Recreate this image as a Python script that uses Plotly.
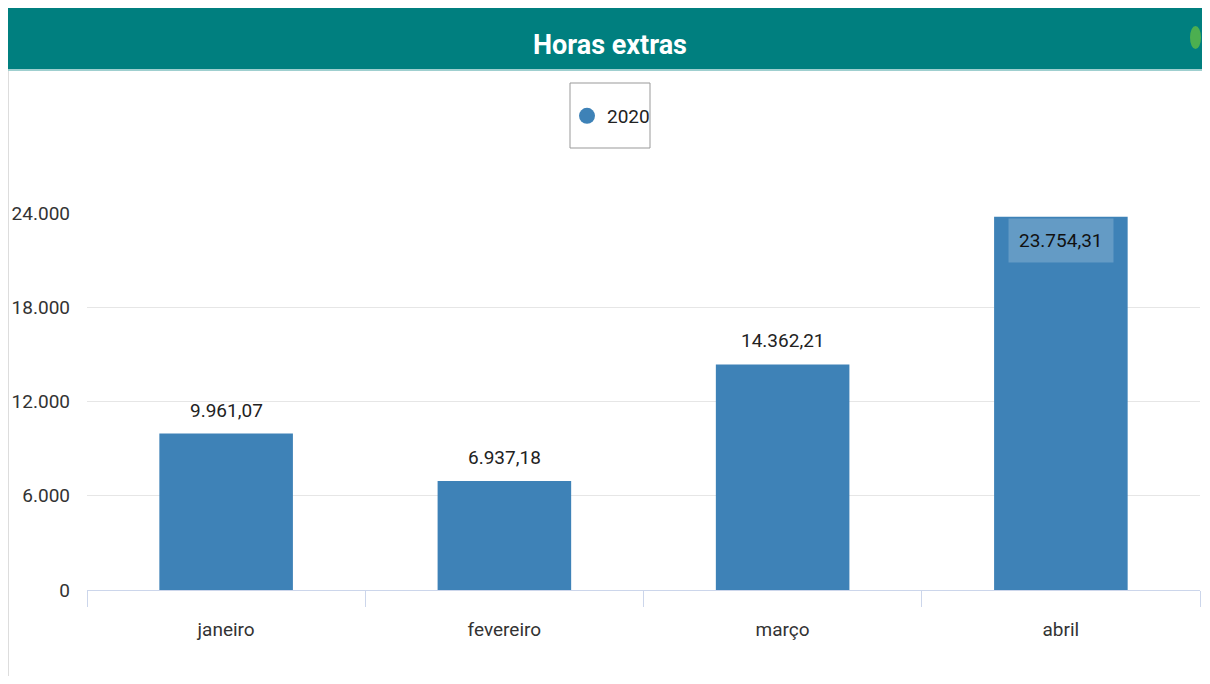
import plotly.graph_objects as go

# dados
meses = ["janeiro", "fevereiro", "março", "abril"]
horas_2020 = [9961.07, 6937.18, 14362.21, 23754.31]
serie_nome = "2020"
y_ticks = [0, 6000, 12000, 18000, 24000]
titulo = "Horas extras"

FONTE = "Roboto, Liberation Sans, sans-serif"
AZUL = "#3e82b7"
TEAL = "#007f7f"

# a página tem margem de 8px no body: tudo é medido na referência e deslocado
OFF = 8
W, H = 1210 - 2 * OFF, 684 - 2 * OFF
ML, MR, MT, MB = 87 - OFF, W - (1200 - OFF), 213 - OFF, H - (590 - OFF)
PW, PH = W - ML - MR, H - MT - MB


def px_x(p):
    return (p - OFF - ML) / PW


def px_y(p):
    return (H - MB - (p - OFF)) / PH


def fmt_br(v):
    s = f"{v:,.2f}"
    return s.replace(",", "X").replace(".", ",").replace("X", ".")


fig = go.Figure()

fig.add_trace(go.Bar(
    x=meses, y=horas_2020, name=serie_nome, marker=dict(color=AZUL, line=dict(width=0)),
    width=0.48, showlegend=False, hoverinfo="skip",
))
# marcador circular para a legenda
fig.add_trace(go.Scatter(
    x=[None], y=[None], name=serie_nome, mode="markers",
    marker=dict(color=AZUL, size=17, symbol="circle"),
))

# rótulos de dados
for m, v in zip(meses, horas_2020):
    if v > 20000:
        fig.add_annotation(x=m, y=v, text=fmt_br(v), showarrow=False, yanchor="top",
                           yshift=-1, bgcolor="rgba(255,255,255,0.2)", borderpad=10,
                           font=dict(family=FONTE, size=19, color="#111"))
    else:
        fig.add_annotation(x=m, y=v, text=fmt_br(v), showarrow=False, yanchor="bottom",
                           yshift=10, font=dict(family=FONTE, size=19, color="#222"))

# cabeçalho, moldura e caixa da legenda
shapes = [
    dict(type="line", xref="paper", yref="paper", x0=px_x(8.5), x1=px_x(8.5),
         y0=px_y(684), y1=px_y(8), line=dict(color="#dddddd", width=1)),
    dict(type="rect", xref="paper", yref="paper", x0=px_x(6), x1=px_x(1212),
         y0=px_y(69), y1=px_y(6), fillcolor=TEAL, line=dict(width=0)),
    dict(type="line", xref="paper", yref="paper", x0=px_x(6), x1=px_x(1212),
         y0=px_y(70), y1=px_y(70), line=dict(color="#9fcfcf", width=2)),
    dict(type="circle", xref="paper", yref="paper", x0=px_x(1190), x1=px_x(1201),
         y0=px_y(49), y1=px_y(26), fillcolor="#4caf50", line=dict(width=0)),
    dict(type="rect", xref="paper", yref="paper", x0=px_x(570), x1=px_x(650),
         y0=px_y(148), y1=px_y(83), fillcolor="rgba(0,0,0,0)",
         line=dict(color="#999999", width=1)),
]

fig.update_layout(
    width=W, height=H,
    margin=dict(l=ML, r=MR, t=MT, b=MB),
    paper_bgcolor="white", plot_bgcolor="white",
    separators=",.",
    font=dict(family=FONTE, size=19, color="#333"),
    title=dict(text=f"<b>{titulo}</b>", x=(610 - OFF) / W, xanchor="center",
               y=1 - (45 - OFF) / H, yanchor="middle",
               font=dict(family=FONTE, size=27, color="white")),
    shapes=shapes,
    legend=dict(orientation="h", x=px_x(611), xanchor="center", y=px_y(116),
                yanchor="middle", borderwidth=0, bgcolor="rgba(0,0,0,0)",
                font=dict(family=FONTE, size=19, color="#222"), itemwidth=30),
    xaxis=dict(type="category", showline=True, linecolor="#ccd6eb", linewidth=1,
               ticks="outside", tickson="boundaries", ticklen=16, tickcolor="#ccd6eb",
               ticklabelstandoff=22, showgrid=False,
               tickfont=dict(family=FONTE, size=19, color="#333")),
    yaxis=dict(range=[0, 24000], tickvals=y_ticks, tickformat=",d", showgrid=True,
               gridcolor="#e6e6e6", gridwidth=1, zeroline=False, ticks="",
               ticklabelstandoff=16, tickfont=dict(family=FONTE, size=19, color="#333")),
)

fig.write_html("out.html")
